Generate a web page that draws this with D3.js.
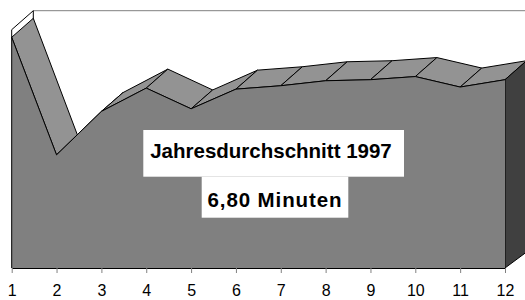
<!DOCTYPE html>
<html>
<head>
<meta charset="utf-8">
<script src="https://cdn.jsdelivr.net/npm/d3@7"></script>
<style>
  body { margin: 0; background: #fff; }
  svg { display: block; font-family: Arial, "Liberation Sans", sans-serif; }
</style>
</head>
<body>
<div id="chart"></div>
<script>
// Monthly values (minutes)
const months = ["1", "2", "3", "4", "5", "6", "7", "8", "9", "10", "11", "12"];
const minutes = [8.81, 4.32, 5.98, 6.87, 6.08, 6.83, 6.96, 7.15, 7.19, 7.31, 6.91, 7.19];
const yMax = 9.1;
const noteLines = ["Jahresdurchschnitt 1997", "6,80 Minuten"];

const width = 525, height = 300;

const svg = d3.select("#chart")
  .append("svg")
  .attr("width", width)
  .attr("height", height);

// Scales for the front plane
const x = d3.scalePoint()
    .domain(months)
    .range([11.7, 505]);

const y = d3.scaleLinear()
    .domain([0, yMax])
    .range([268, 29.7]);

// 3D depth offset (slight perspective: a bit flatter near the floor)
const depthX = 21.6;
function depthY(py) {
  return py <= 100 ? 19 : 19 - 3 * (py - 100) / 168;
}
function back(p) {
  return [p[0] + depthX, p[1] - depthY(p[1])];
}

const front = months.map((m, i) => [x(m), y(minutes[i])]);
const x0 = x(months[0]), xN = x(months[months.length - 1]);
const yBase = y(0), yTop = y(yMax);

// Walls: left side wall and the back wall edge
const wallFront = [x0, yTop];
const wallBack = back(wallFront);
svg.append("polygon")
    .attr("points", [[x0, yBase], wallFront, wallBack, back([x0, yBase])].join(" "))
    .attr("fill", "#fff");

svg.append("line")
    .attr("x1", wallBack[0]).attr("y1", wallBack[1])
    .attr("x2", width + 10).attr("y2", wallBack[1])
    .attr("stroke", "#808080");

svg.append("line")
    .attr("x1", wallBack[0]).attr("y1", wallBack[1])
    .attr("x2", wallBack[0]).attr("y2", back([x0, yBase])[1])
    .attr("stroke", "#000");

svg.append("line")
    .attr("x1", wallFront[0]).attr("y1", wallFront[1])
    .attr("x2", wallBack[0]).attr("y2", wallBack[1])
    .attr("stroke", "#000");

// Top faces of the area, left to right
for (let i = 0; i < front.length - 1; i++) {
  const a = front[i], b = front[i + 1];
  svg.append("polygon")
      .attr("points", [a, b, back(b), back(a)].join(" "))
      .attr("fill", "#939393")
      .attr("stroke", "#000")
      .attr("stroke-width", 1)
      .attr("stroke-linejoin", "round");
}

// Right end face
const last = front[front.length - 1];
svg.append("polygon")
    .attr("points", [last, back(last), back([xN, yBase]), [xN, yBase]].join(" "))
    .attr("fill", "#404040")
    .attr("stroke", "#000");

// Front face
const area = d3.area()
    .x((d, i) => x(months[i]))
    .y0(yBase)
    .y1(d => y(d));

svg.append("path")
    .datum(minutes)
    .attr("fill", "#808080")
    .attr("d", area);

svg.append("path")
    .datum(minutes)
    .attr("fill", "none")
    .attr("stroke", "#000")
    .attr("d", d3.line().x((d, i) => x(months[i])).y(d => y(d)));

// Left axis edge
svg.append("line")
    .attr("x1", x0).attr("y1", yTop)
    .attr("x2", x0).attr("y2", yBase)
    .attr("stroke", "#000");

// X axis
const xAxis = svg.append("g")
    .attr("transform", `translate(0,${yBase})`)
    .call(d3.axisBottom(x).tickSize(5).tickSizeOuter(0).tickPadding(12));

xAxis.select(".domain").attr("stroke", "#000");
xAxis.selectAll(".tick line").attr("stroke", "#808080");
xAxis.selectAll(".tick text")
    .attr("font-size", 16)
    .attr("font-family", "Arial, 'Liberation Sans', sans-serif")
    .attr("fill", "#000");

// Annotation boxes
svg.append("rect")
    .attr("x", 143.3).attr("y", 130)
    .attr("width", 260.7).attr("height", 46.7)
    .attr("fill", "#fff");

svg.append("rect")
    .attr("x", 201.7).attr("y", 176.7)
    .attr("width", 146.6).attr("height", 41)
    .attr("fill", "#fff");

svg.append("text")
    .attr("x", 271)
    .attr("y", 158.3)
    .attr("text-anchor", "middle")
    .attr("font-size", 20.5)
    .attr("font-weight", "bold")
    .text(noteLines[0]);

svg.append("text")
    .attr("x", 275)
    .attr("y", 206.7)
    .attr("text-anchor", "middle")
    .attr("font-size", 20.5)
    .attr("font-weight", "bold")
    .attr("letter-spacing", 0.9)
    .text(noteLines[1]);
</script>
</body>
</html>
